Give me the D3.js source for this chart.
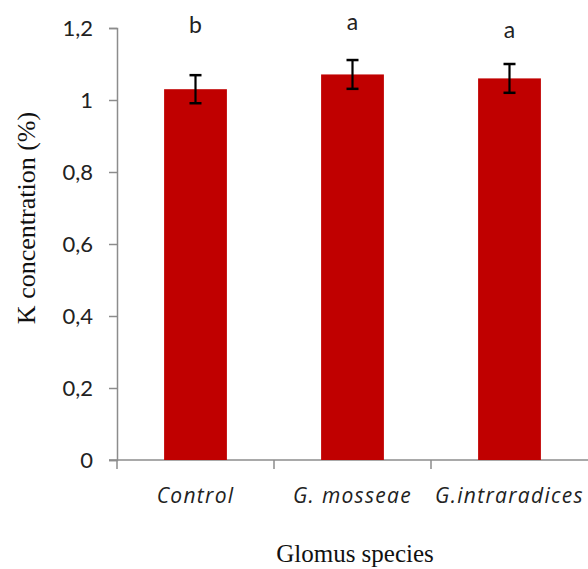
<!DOCTYPE html>
<html><head><meta charset="utf-8">
<script src="https://cdn.jsdelivr.net/npm/d3@7"></script>
<style>body{margin:0;background:#fff}</style>
</head><body>
<script>
const categories = ["Control", "G. mosseae", "G.intraradices"];
const values = [1.03, 1.071, 1.06];
const errors = [0.039, 0.04, 0.04];
const letters = ["b", "a", "a"];
const yTicks = [0, 0.2, 0.4, 0.6, 0.8, 1.0, 1.2];
const yTickLabels = ["0", "0,2", "0,4", "0,6", "0,8", "1", "1,2"];

const W = 588, H = 569;
const m = {left: 117, right: 0, top: 28, bottom: 109};
const svg = d3.select("body").append("svg").attr("width", W).attr("height", H);

const x = d3.scaleBand().domain(categories).range([m.left, W - m.right]).paddingInner(0.6).paddingOuter(0.3);
const xOuter = d3.scaleBand().domain(categories).range([m.left, W - m.right]);
const y = d3.scaleLinear().domain([0, 1.2]).range([H - m.bottom, m.top]);

const axisColor = "#8c8c8c";
const sansFont = "Lato, 'Open Sans', sans-serif";
// y axis
const yAxis = svg.append("g").attr("transform", `translate(${m.left},0)`)
  .call(d3.axisLeft(y).tickValues(yTicks).tickFormat((d, i) => yTickLabels[i]).tickSizeOuter(0).tickSize(8).tickPadding(16));
yAxis.select(".domain").attr("stroke", axisColor).attr("stroke-width", 1.5);
yAxis.selectAll(".tick line").attr("stroke", axisColor).attr("stroke-width", 1.5);
yAxis.selectAll(".tick text").attr("font-family", sansFont).attr("font-size", 22).attr("fill", "#222");

// x axis
const xAxisG = svg.append("g").attr("transform", `translate(0,${y(0)})`);
xAxisG.append("line").attr("x1", m.left - 8).attr("x2", W).attr("stroke", axisColor).attr("stroke-width", 1.5);
const boundaries = categories.map(c => xOuter(c));
xAxisG.selectAll("line.tk").data(boundaries).enter().append("line").attr("class", "tk")
  .attr("x1", d => d).attr("x2", d => d).attr("y1", 0).attr("y2", 9)
  .attr("stroke", axisColor).attr("stroke-width", 1.5);
xAxisG.selectAll("text").data(categories).enter().append("text")
  .attr("x", d => x(d) + x.bandwidth() / 2).attr("y", 43)
  .attr("text-anchor", "middle").attr("font-family", "'Open Sans', Lato, sans-serif")
  .attr("font-style", "italic").attr("font-size", 21).attr("letter-spacing", 1.3)
  .attr("fill", "#222").text(d => d);

// bars
svg.selectAll("rect.bar").data(values).enter().append("rect").attr("class", "bar")
  .attr("x", (d, i) => x(categories[i])).attr("width", x.bandwidth())
  .attr("y", d => y(d)).attr("height", d => y(0) - y(d)).attr("fill", "#C00000");

// error bars
const eb = svg.selectAll("g.eb").data(values).enter().append("g")
  .attr("transform", (d, i) => `translate(${x(categories[i]) + x.bandwidth() / 2},0)`);
eb.append("line").attr("y1", (d, i) => y(d + errors[i])).attr("y2", (d, i) => y(d - errors[i]))
  .attr("stroke", "#000").attr("stroke-width", 2.2);
eb.append("line").attr("x1", -6).attr("x2", 6).attr("y1", (d, i) => y(d + errors[i])).attr("y2", (d, i) => y(d + errors[i]))
  .attr("stroke", "#000").attr("stroke-width", 2.5);
eb.append("line").attr("x1", -6).attr("x2", 6).attr("y1", (d, i) => y(d - errors[i])).attr("y2", (d, i) => y(d - errors[i]))
  .attr("stroke", "#000").attr("stroke-width", 2.5);

// letters (baselines as placed in the original)
const letterBaselines = [33, 30, 38];
svg.selectAll("text.letter").data(letters).enter().append("text")
  .attr("x", (d, i) => x(categories[i]) + x.bandwidth() / 2).attr("y", (d, i) => letterBaselines[i])
  .attr("text-anchor", "middle").attr("font-family", sansFont)
  .attr("font-size", 23).attr("fill", "#222").text(d => d);

// axis titles
svg.append("text").attr("transform", `translate(35,218) rotate(-90)`)
  .attr("text-anchor", "middle").attr("font-family", "'Liberation Serif', 'Times New Roman', serif")
  .attr("font-size", 26).attr("fill", "#111").text("K concentration (%)");
svg.append("text").attr("x", 355).attr("y", 562)
  .attr("text-anchor", "middle").attr("font-family", "'Liberation Serif', 'Times New Roman', serif")
  .attr("font-size", 25).attr("fill", "#111").text("Glomus species");
</script>
</body></html>
